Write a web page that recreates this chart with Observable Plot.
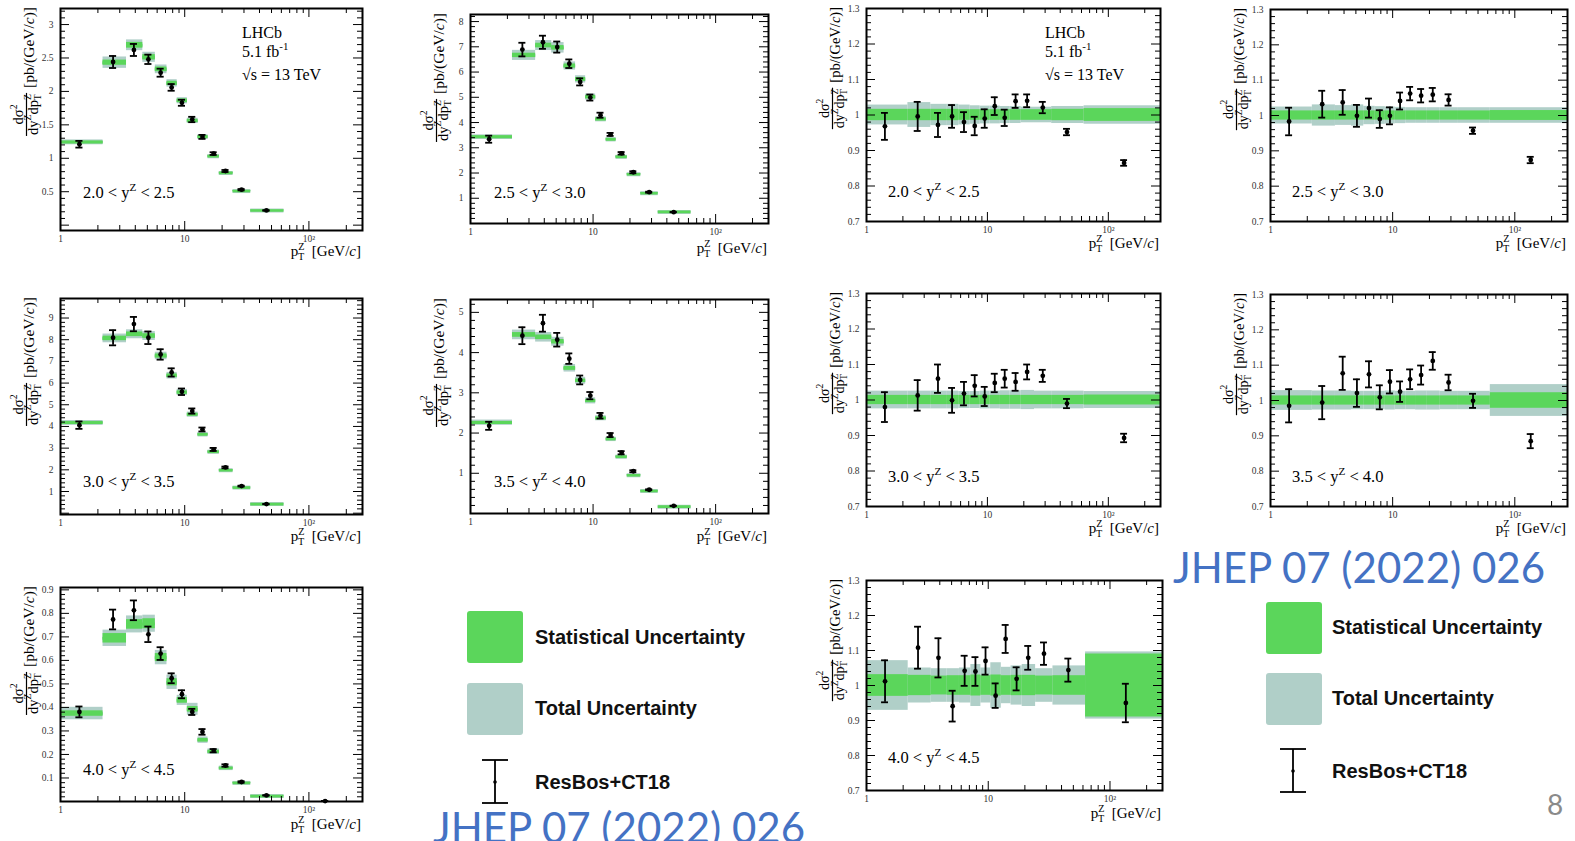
<!DOCTYPE html>
<html><head><meta charset="utf-8">
<script src="https://cdn.jsdelivr.net/npm/d3@7"></script>
<script src="https://cdn.jsdelivr.net/npm/@observablehq/plot@0.6"></script>
<style>
html,body{margin:0;padding:0;background:#fff;}
body{width:1575px;height:841px;overflow:hidden;position:relative;}
svg{overflow:visible;}
</style></head><body>
<script>
// ---------- DATA ----------
const binLo = [1, 2.2, 3.4, 4.6, 5.8, 7.2, 8.7, 10.5, 12.8, 15.4, 19.0, 24.5, 34, 63];
const binHi = [2.2, 3.4, 4.6, 5.8, 7.2, 8.7, 10.5, 12.8, 15.4, 19.0, 24.5, 34, 63, 270];
const binCenter = [1.42, 2.65, 3.9, 5.1, 6.4, 7.85, 9.5, 11.5, 13.9, 17.1, 21.3, 28.7, 45.5, 135];
const xDomain = [1, 270];
const xMajorTicks = [1, 10, 100];
const xMinorTicks = [2,3,4,5,6,7,8,9,20,30,40,50,60,70,80,90,200];
const rapidityBins = [["2.0","2.5"],["2.5","3.0"],["3.0","3.5"],["3.5","4.0"],["4.0","4.5"]];

// cross-section panels: measured (box centre), ResBos+CT18 (points), theory error
const xsA = [1.24, 2.43, 2.69, 2.51, 2.33, 2.12, 1.86, 1.56, 1.32, 1.03, 0.78, 0.51, 0.22];
const thA = [1.21, 2.44, 2.62, 2.48, 2.28, 2.06, 1.83, 1.58, 1.32, 1.07, 0.81, 0.53, 0.22];
const thErrA = [0.05, 0.09, 0.09, 0.07, 0.06, 0.05, 0.045, 0.04, 0.03, 0.02, 0.015, 0.01, 0.005];
const xsB = [3.43, 6.66, 7.05, 6.96, 6.24, 5.71, 5.01, 4.13, 3.33, 2.64, 1.95, 1.20, 0.46];
const thB = [3.34, 6.89, 7.18, 6.99, 6.33, 5.61, 4.99, 4.29, 3.53, 2.78, 2.03, 1.24, 0.45];
const thErrB = [0.14, 0.27, 0.26, 0.22, 0.17, 0.14, 0.12, 0.10, 0.06, 0.05, 0.04, 0.02, 0.005];
const xsC = [4.17, 8.06, 8.25, 8.17, 7.25, 6.34, 5.57, 4.55, 3.63, 2.83, 1.98, 1.18, 0.42];
const thC = [4.06, 8.09, 8.72, 8.09, 7.32, 6.49, 5.60, 4.71, 3.86, 2.94, 2.11, 1.25, 0.42];
const thErrC = [0.17, 0.35, 0.33, 0.29, 0.24, 0.19, 0.15, 0.12, 0.09, 0.07, 0.04, 0.02, 0.005];
const xsD = [2.26, 4.44, 4.38, 4.27, 3.61, 3.30, 2.80, 2.37, 1.85, 1.41, 0.95, 0.56, 0.17];
const thD = [2.18, 4.42, 4.73, 4.32, 3.85, 3.32, 2.93, 2.43, 1.95, 1.51, 1.05, 0.59, 0.19];
const thErrD = [0.10, 0.21, 0.21, 0.17, 0.13, 0.11, 0.09, 0.07, 0.05, 0.04, 0.025, 0.012, 0.004];
const xsE = [0.374, 0.694, 0.753, 0.756, 0.612, 0.507, 0.430, 0.392, 0.261, 0.212, 0.142, 0.079, 0.023, 0.002];
const thE = [0.381, 0.774, 0.813, 0.711, 0.629, 0.524, 0.456, 0.381, 0.296, 0.216, 0.153, 0.083, 0.026, 0.002];
const thErrE = [0.023, 0.042, 0.042, 0.033, 0.027, 0.021, 0.017, 0.013, 0.012, 0.007, 0.005, 0.003, 0.001, 0.0005];

// ratio panels: ResBos/data, its error, relative stat and total data uncertainty
const rA = [0.968, 0.996, 0.972, 0.996, 0.980, 0.969, 0.990, 1.025, 0.992, 1.039, 1.040, 1.021, 0.952, 0.865];
const rErrA = [0.038, 0.041, 0.034, 0.032, 0.028, 0.026, 0.026, 0.025, 0.023, 0.019, 0.018, 0.016, 0.009, 0.008];
const statA = [0.016, 0.016, 0.016, 0.016, 0.015, 0.015, 0.015, 0.015, 0.015, 0.015, 0.015, 0.015, 0.016, 0.018];
const totA = [0.028, 0.035, 0.030, 0.030, 0.028, 0.026, 0.025, 0.025, 0.024, 0.024, 0.022, 0.022, 0.024, 0.026];
const rB = [0.983, 1.032, 1.037, 0.999, 1.021, 0.990, 0.999, 1.041, 1.062, 1.056, 1.059, 1.044, 0.957, 0.874];
const rErrB = [0.039, 0.038, 0.035, 0.031, 0.027, 0.025, 0.024, 0.024, 0.019, 0.019, 0.019, 0.016, 0.009, 0.009];
const statB = [0.013, 0.013, 0.013, 0.013, 0.013, 0.013, 0.013, 0.013, 0.013, 0.013, 0.013, 0.013, 0.013, 0.014];
const totB = [0.024, 0.030, 0.028, 0.030, 0.026, 0.025, 0.024, 0.023, 0.022, 0.022, 0.022, 0.022, 0.022, 0.022];
const rC = [0.980, 1.013, 1.060, 0.999, 1.018, 1.040, 1.010, 1.048, 1.060, 1.051, 1.079, 1.068, 0.990, 0.893];
const rErrC = [0.042, 0.043, 0.040, 0.035, 0.033, 0.030, 0.027, 0.026, 0.025, 0.025, 0.021, 0.017, 0.013, 0.012];
const statC = [0.013, 0.013, 0.013, 0.013, 0.013, 0.013, 0.013, 0.013, 0.013, 0.013, 0.013, 0.013, 0.013, 0.014];
const totC = [0.025, 0.025, 0.025, 0.025, 0.024, 0.024, 0.025, 0.025, 0.026, 0.026, 0.027, 0.025, 0.025, 0.024];
const rD = [0.985, 0.994, 1.077, 1.021, 1.074, 1.009, 1.053, 1.025, 1.060, 1.072, 1.112, 1.051, 0.999, 0.885];
const rErrD = [0.047, 0.047, 0.047, 0.039, 0.037, 0.034, 0.033, 0.029, 0.028, 0.027, 0.025, 0.022, 0.020, 0.020];
const statD = [0.013, 0.013, 0.013, 0.013, 0.013, 0.013, 0.013, 0.013, 0.013, 0.013, 0.013, 0.013, 0.013, 0.022];
const totD = [0.028, 0.027, 0.027, 0.026, 0.026, 0.026, 0.027, 0.026, 0.026, 0.027, 0.027, 0.026, 0.026, 0.045];
const rE = [1.012, 1.108, 1.079, 0.941, 1.042, 1.040, 1.070, 0.971, 1.133, 1.019, 1.079, 1.091, 1.044, 0.950];
const rErrE = [0.060, 0.060, 0.056, 0.044, 0.043, 0.041, 0.039, 0.035, 0.040, 0.033, 0.034, 0.032, 0.033, 0.055];
const statE = [0.031, 0.029, 0.027, 0.028, 0.028, 0.030, 0.028, 0.030, 0.028, 0.029, 0.029, 0.027, 0.028, 0.090];
const totE = [0.071, 0.050, 0.048, 0.048, 0.050, 0.060, 0.050, 0.065, 0.052, 0.056, 0.060, 0.048, 0.056, 0.096];

// tick labels
const yLabA = [0.5, 1, 1.5, 2, 2.5, 3];
const yLabB = [1, 2, 3, 4, 5, 6, 7, 8];
const yLabC = [1, 2, 3, 4, 5, 6, 7, 8, 9];
const yLabD = [1, 2, 3, 4, 5];
const yLabE = [0.1, 0.2, 0.3, 0.4, 0.5, 0.6, 0.7, 0.8, 0.9];
const yLabR = [0.7, 0.8, 0.9, 1, 1.1, 1.2, 1.3];
const legendLabels = ["Statistical Uncertainty", "Total Uncertainty", "ResBos+CT18"];
const reference = "JHEP 07 (2022) 026";
const pageNumber = "8";

// ---------- STYLE ----------
const SERIF = "'Liberation Serif','Times New Roman',serif";
const SANS = "'Liberation Sans',Arial,sans-serif";
const GREEN = "#5bd65b", TEAL = "#b0cfc8";

function rowsXS(xs, th, err, stat, tot) {
  return xs.map((v, i) => ({lo: binLo[i], hi: binHi[i], c: binCenter[i], v,
    s1: v * (1 - stat[i]), s2: v * (1 + stat[i]), t1: v * (1 - tot[i]), t2: v * (1 + tot[i]),
    th: th[i], e1: th[i] - err[i], e2: th[i] + err[i]}));
}
function rowsR(r, err, stat, tot) {
  return r.map((v, i) => ({lo: binLo[i], hi: binHi[i], c: binCenter[i], v: 1,
    s1: 1 - stat[i], s2: 1 + stat[i], t1: 1 - tot[i], t2: 1 + tot[i],
    th: v, e1: v - err[i], e2: v + err[i]}));
}

function richText(parent, x, y, segs, {size = 15, anchor = "start", family = SERIF, fill = "#000"} = {}) {
  const t = parent.append("text").attr("x", x).attr("y", y).attr("font-size", size)
    .attr("font-family", family).attr("text-anchor", anchor).attr("fill", fill)
    .style("white-space", "pre");
  let cur = 0;
  for (const seg of segs) {
    const small = seg.sup || seg.sub;
    const off = seg.sup ? size * 0.42 : seg.sub ? -size * 0.24 : 0;
    const ts = t.append("tspan").text(seg.t).attr("font-size", small ? size * 0.68 : size);
    if (off !== cur) { ts.attr("dy", cur - off); cur = off; }
    if (seg.dx) ts.attr("dx", seg.dx);
    if (seg.it) ts.attr("font-style", "italic");
  }
  return t;
}

const panels = [
  {kind: "xs", fx: 60, fy: 8, w: 302, h: 222, yDomain: [-0.08, 3.24], yMajor: 0.5, yMinor: 0.1, yLab: yLabA,
   rows: rowsXS(xsA, thA, thErrA, statA, totA), rap: 0, labDy: 32, labDx: 23, lhcb: 182, xtDy: 26},
  {kind: "xs", fx: 470, fy: 14, w: 298, h: 209, yDomain: [0, 8.28], yMajor: 1, yMinor: 0.2, yLab: yLabB,
   rows: rowsXS(xsB, thB, thErrB, statB, totB), rap: 1, labDy: 25, labDx: 24, xtDy: 30},
  {kind: "xs", fx: 60, fy: 298, w: 302, h: 216, yDomain: [-0.06, 9.9], yMajor: 1, yMinor: 0.2, yLab: yLabC,
   rows: rowsXS(xsC, thC, thErrC, statC, totC), rap: 2, labDy: 27, labDx: 23, xtDy: 27},
  {kind: "xs", fx: 470, fy: 299, w: 298, h: 214, yDomain: [0, 5.32], yMajor: 1, yMinor: 0.2, yLab: yLabD,
   rows: rowsXS(xsD, thD, thErrD, statD, totD), rap: 3, labDy: 26, labDx: 24, xtDy: 28},
  {kind: "xs", fx: 60, fy: 587, w: 302, h: 214, yDomain: [0, 0.91], yMajor: 0.1, yMinor: 0.02, yLab: yLabE,
   rows: rowsXS(xsE, thE, thErrE, statE, totE), rap: 4, labDy: 26, labDx: 23, xtDy: 28},
  {kind: "r", fx: 866, fy: 8, w: 294, h: 213, yDomain: [0.7, 1.3], yMajor: 0.1, yMinor: 0.02, yLab: yLabR,
   rows: rowsR(rA, rErrA, statA, totA), rap: 0, labDy: 24, labDx: 22, lhcb: 179, xtDy: 27},
  {kind: "r", fx: 1270, fy: 9, w: 297, h: 212, yDomain: [0.7, 1.3], yMajor: 0.1, yMinor: 0.02, yLab: yLabR,
   rows: rowsR(rB, rErrB, statB, totB), rap: 1, labDy: 24, labDx: 22, xtDy: 27},
  {kind: "r", fx: 866, fy: 293, w: 294, h: 213, yDomain: [0.7, 1.3], yMajor: 0.1, yMinor: 0.02, yLab: yLabR,
   rows: rowsR(rC, rErrC, statC, totC), rap: 2, labDy: 24, labDx: 22, xtDy: 27},
  {kind: "r", fx: 1270, fy: 294, w: 297, h: 212, yDomain: [0.7, 1.3], yMajor: 0.1, yMinor: 0.02, yLab: yLabR,
   rows: rowsR(rD, rErrD, statD, totD), rap: 3, labDy: 24, labDx: 22, xtDy: 27},
  {kind: "r", fx: 866, fy: 580, w: 296, h: 210, yDomain: [0.7, 1.3], yMajor: 0.1, yMinor: 0.02, yLab: yLabR,
   rows: rowsR(rE, rErrE, statE, totE), rap: 4, labDy: 27, labDx: 22, xtDy: 28}
];

// ---------- OVERLAY (legends, reference, page number) ----------
const ov = d3.select("body").append("svg").attr("width", 1575).attr("height", 841)
  .style("position", "absolute").style("left", "0px").style("top", "0px");
function legend(sqX, sqY1, sqY2, sqH, textX, textY, ebX, ebTop, ebBot, ebDot) {
  ov.append("rect").attr("x", sqX).attr("y", sqY1).attr("width", 56).attr("height", sqH).attr("rx", 3).attr("fill", GREEN);
  ov.append("rect").attr("x", sqX).attr("y", sqY2).attr("width", 56).attr("height", sqH).attr("rx", 3).attr("fill", TEAL);
  ov.append("line").attr("x1", ebX).attr("x2", ebX).attr("y1", ebTop).attr("y2", ebBot).attr("stroke", "#000").attr("stroke-width", 1.8);
  for (const yy of [ebTop, ebBot]) ov.append("line").attr("x1", ebX - 13).attr("x2", ebX + 13).attr("y1", yy).attr("y2", yy).attr("stroke", "#000").attr("stroke-width", 1.8);
  ov.append("circle").attr("cx", ebX).attr("cy", ebDot).attr("r", 1.8).attr("fill", "#000");
  legendLabels.forEach((lab, i) => ov.append("text").attr("x", textX).attr("y", textY[i])
    .attr("dominant-baseline", "central").attr("font-family", SANS).attr("font-weight", "bold")
    .attr("font-size", 20).attr("fill", "#111").text(lab));
}
legend(467, 611, 683, 52, 535, [637, 708, 782], 495, 760, 803, 782);
legend(1266, 602, 673, 52, 1332, [627, 698, 771], 1293, 749, 792, 771);
ov.append("text").attr("x", 1173).attr("y", 583).attr("font-family", "Lato,'Open Sans',sans-serif")
  .attr("font-size", 42).attr("fill", "#4472c4").text(reference);
ov.append("text").attr("x", 433).attr("y", 843).attr("font-family", "Lato,'Open Sans',sans-serif")
  .attr("font-size", 42).attr("fill", "#4472c4").text(reference);
ov.append("text").attr("x", 1547).attr("y", 815).attr("font-family", "Lato,'Open Sans',sans-serif")
  .attr("font-size", 28).attr("fill", "#8a8a8a").text(pageNumber);

// ---------- PANELS ----------
function makePanel(p) {
  const mL = 60, mR = 8, mT = 10, mB = 34;
  const W = p.w, H = p.h;
  const [y0, y1] = p.yDomain;
  const rnd = v => Math.round(v * 10000) / 10000;
  const rangeIn = step => d3.range(Math.ceil(y0 / step - 1e-6), Math.floor(y1 / step + 1e-6) + 1).map(k => rnd(k * step));
  const yMaj = rangeIn(p.yMajor);
  const yMin = rangeIn(p.yMinor).filter(v => !yMaj.some(m => Math.abs(m - v) < 1e-6));
  const xMin = xMinorTicks.filter(v => v <= xDomain[1]);
  const capK = 1.068;
  const rows = p.rows;
  const visible = d => p.kind === "r" || d.v >= 0.01;
  const marks = [
    Plot.rect(rows, {filter: visible, x1: "lo", x2: "hi", y1: "t1", y2: "t2", fill: TEAL})
  ];
  if (p.kind === "xs") marks.push(Plot.ruleY(rows, {filter: visible, y: "v", x1: "lo", x2: "hi", stroke: TEAL, strokeWidth: 4}));
  marks.push(Plot.rect(rows, {filter: visible, x1: "lo", x2: "hi", y1: "s1", y2: "s2", fill: GREEN}));
  if (p.kind === "xs") marks.push(Plot.ruleY(rows, {filter: visible, y: "v", x1: "lo", x2: "hi", stroke: GREEN, strokeWidth: 2.6}));
  marks.push(
    Plot.ruleX(rows, {x: "c", y1: "e1", y2: "e2", stroke: "#000", strokeWidth: 1.8}),
    Plot.ruleY(rows, {y: "e1", x1: d => d.c / capK, x2: d => d.c * capK, stroke: "#000", strokeWidth: 1.8}),
    Plot.ruleY(rows, {y: "e2", x1: d => d.c / capK, x2: d => d.c * capK, stroke: "#000", strokeWidth: 1.8}),
    Plot.dot(rows, {x: "c", y: "th", r: 2.4, fill: "#000"}),
    Plot.ruleX(xMajorTicks, {insetTop: H - 9, stroke: "#000"}),
    Plot.ruleX(xMajorTicks, {insetBottom: H - 9, stroke: "#000"}),
    Plot.ruleX(xMin, {insetTop: H - 5, stroke: "#000"}),
    Plot.ruleX(xMin, {insetBottom: H - 5, stroke: "#000"}),
    Plot.ruleY(yMaj, {insetRight: W - 9, stroke: "#000"}),
    Plot.ruleY(yMaj, {insetLeft: W - 9, stroke: "#000"}),
    Plot.ruleY(yMin, {insetRight: W - 5, stroke: "#000"}),
    Plot.ruleY(yMin, {insetLeft: W - 5, stroke: "#000"}),
    Plot.frame({stroke: "#000", strokeWidth: 2}),
    Plot.axisX(xMajorTicks, {tickSize: 0, tickPadding: 5, label: null, fontSize: 9.5, fill: "#333",
      tickFormat: d => d === 100 ? "10²" : String(d)}),
    Plot.axisY(p.yLab, {tickSize: 0, tickPadding: 7, label: null, fontSize: 9.5, fill: "#333",
      tickFormat: d => String(d)})
  );
  const svg = Plot.plot({
    width: W + mL + mR, height: H + mT + mB,
    marginLeft: mL, marginRight: mR, marginTop: mT, marginBottom: mB,
    x: {type: "log", domain: xDomain},
    y: {domain: p.yDomain},
    style: {background: "none", fontFamily: SERIF, fontSize: "9.5px", overflow: "visible"},
    marks
  });
  svg.style.position = "absolute";
  svg.style.left = (p.fx - mL) + "px";
  svg.style.top = (p.fy - mT) + "px";
  svg.style.maxWidth = "none";
  document.body.appendChild(svg);
  const s = d3.select(svg);

  // x title
  richText(s, mL + W - 1, mT + H + p.xtDy,
    [{t: "p"}, {t: "Z", sup: 1}, {t: "T", sub: 1, dx: -6.5}, {t: "  [GeV/"}, {t: "c", it: 1}, {t: "]"}],
    {size: 15, anchor: "end"});

  // y title (rotated fraction)
  const bs = p.kind === "xs" ? 15.5 : 14.5, fs = p.kind === "xs" ? 14.5 : 14;
  const g = s.append("g").attr("transform", `translate(${mL - 26},${mT - 1}) rotate(-90)`);
  const br = richText(g, 0, 0, [{t: "[pb/(GeV/"}, {t: "c", it: 1}, {t: ")]"}], {size: bs, anchor: "end"});
  const bw = br.node().getComputedTextLength();
  const num = richText(g, 0, -11, [{t: "dσ"}, {t: "2", sup: 1}], {size: fs, anchor: "middle"});
  const den = richText(g, 0, 3.5, [{t: "dy"}, {t: "Z", sup: 1}, {t: "dp"}, {t: "Z", sup: 1}, {t: "T", sub: 1, dx: -6.3}], {size: fs, anchor: "middle"});
  const fw = Math.max(num.node().getComputedTextLength(), den.node().getComputedTextLength() - 6);
  const cx = -(bw + 6 + fw / 2);
  num.attr("x", cx); den.attr("x", cx);
  g.append("line").attr("x1", cx - fw / 2 - 1).attr("x2", cx + fw / 2 + 1).attr("y1", -7.5).attr("y2", -7.5)
    .attr("stroke", "#000").attr("stroke-width", 1.2);

  // rapidity label
  const [lo, hi] = rapidityBins[p.rap];
  richText(s, mL + p.labDx, mT + H - p.labDy, [{t: lo + " < y"}, {t: "Z", sup: 1}, {t: " < " + hi}], {size: 16.5});

  if (p.lhcb) {
    richText(s, mL + p.lhcb, mT + 30, [{t: "LHCb"}], {size: 16});
    richText(s, mL + p.lhcb, mT + 49, [{t: "5.1 fb"}, {t: "-1", sup: 1}], {size: 16});
    richText(s, mL + p.lhcb, mT + 72, [{t: "√s = 13 TeV"}], {size: 16});
  }
}
panels.forEach(makePanel);
</script>
</body></html>
